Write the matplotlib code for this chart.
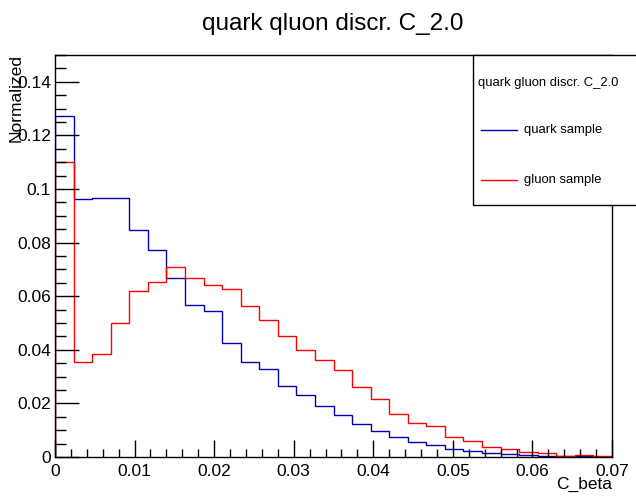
import numpy as np
import matplotlib
matplotlib.use("Agg")
import matplotlib.pyplot as plt
from matplotlib.ticker import MultipleLocator

plt.rcParams['font.family'] = ['Liberation Sans', 'DejaVu Sans']

# 30 bins from 0 to 0.07
x_min, x_max, n_bins = 0.0, 0.07, 30
bin_edges = np.linspace(x_min, x_max, n_bins + 1)

quark = [0.1274, 0.0963, 0.0966, 0.0966, 0.0847, 0.0771, 0.0667, 0.0566, 0.0545, 0.0425,
         0.0353, 0.0328, 0.0266, 0.0230, 0.0190, 0.0157, 0.0123, 0.0098, 0.0076, 0.0057,
         0.0045, 0.0029, 0.0021, 0.0015, 0.0012, 0.0006, 0.0003, 0.0002, 0.0002, 0.0001]
gluon = [0.1100, 0.0356, 0.0384, 0.0501, 0.0618, 0.0653, 0.0709, 0.0667, 0.0642, 0.0627,
         0.0562, 0.0510, 0.0453, 0.0399, 0.0363, 0.0323, 0.0261, 0.0215, 0.0159, 0.0127,
         0.0117, 0.0075, 0.0060, 0.0037, 0.0030, 0.0019, 0.0014, 0.0005, 0.0006, 0.0002]

W, H = 636, 497
fig = plt.figure(figsize=(W / 100, H / 100), dpi=100)
ax = fig.add_axes([55 / W, 1 - 457 / H, (612 - 55) / W, (457 - 55) / H])

ax.stairs(quark, bin_edges, color='#0000b0', lw=1.0, label='quark sample')
ax.stairs(gluon, bin_edges, color='#ff0000', lw=1.0, label='gluon sample')

ax.set_xlim(x_min, x_max)
ax.set_ylim(0, 0.15)
ax.xaxis.set_major_locator(MultipleLocator(0.01))
ax.xaxis.set_minor_locator(MultipleLocator(0.002))
ax.yaxis.set_major_locator(MultipleLocator(0.02))
ax.yaxis.set_minor_locator(MultipleLocator(0.005))
ax.tick_params(which='both', direction='in', top=False, right=False, labelsize=12.5, width=1)
ax.tick_params(axis='x', which='major', length=12, pad=5)
ax.tick_params(axis='x', which='minor', length=6)
ax.tick_params(axis='y', which='major', length=17, pad=3)
ax.tick_params(axis='y', which='minor', length=8)

def fmt(v, pos):
    s = ('%.3f' % v).rstrip('0').rstrip('.')
    return s
ax.xaxis.set_major_formatter(plt.FuncFormatter(fmt))
ax.yaxis.set_major_formatter(plt.FuncFormatter(fmt))
for sp in ax.spines.values():
    sp.set_linewidth(1.0)

fig.text(333 / W, 1 - 24 / H, 'quark qluon discr. C_2.0', ha='center', va='center', fontsize=17.5)
fig.text(612 / W, 1 - 484 / H, 'C_beta', ha='right', va='center', fontsize=12.5)
fig.text(16 / W, 1 - 54 / H, 'Normalized', ha='center', va='top', rotation=90, fontsize=12.5)

# Legend box
lx0, ly0, lx1, ly1 = 473, 55, 640, 205
box = plt.Rectangle((lx0 / W, 1 - ly1 / H), (lx1 - lx0) / W, (ly1 - ly0) / H,
                    transform=fig.transFigure, facecolor='white', edgecolor='black', lw=1.0,
                    zorder=5)
fig.patches.append(box)
fig.text(478 / W, 1 - 83 / H, 'quark gluon discr. C_2.0', ha='left', va='center', fontsize=9.4, zorder=6)
for yy, col, lab in [(130, '#0000b0', 'quark sample'), (180, '#ff0000', 'gluon sample')]:
    fig.lines.append(plt.Line2D([481 / W, 517 / W], [1 - yy / H, 1 - yy / H],
                                transform=fig.transFigure, color=col, lw=1.0, zorder=6))
    fig.text(524 / W, 1 - yy / H, lab, ha='left', va='center', fontsize=9.4, zorder=6)

fig.savefig('out.png', dpi=100)
